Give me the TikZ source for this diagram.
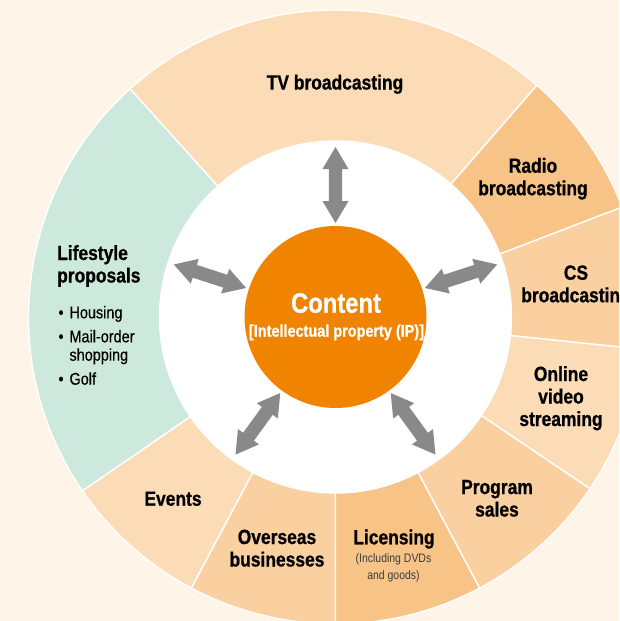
\documentclass[tikz,border=0pt]{standalone}
\usepackage{fontspec}
\setmainfont{Liberation Sans}[FakeStretch=0.85, BoldFeatures={FakeBold=0.8}]
\newfontfamily\listfont{Liberation Sans}[FakeStretch=0.85, FakeBold=0.4]
\definecolor{bgcream}{HTML}{FEF4E8}
\definecolor{seglight}{HTML}{FBDCB7}
\definecolor{segmid}{HTML}{FAD0A1}
\definecolor{segdark}{HTML}{F8C387}
\definecolor{segmint}{HTML}{CDE8DC}
\definecolor{contentorange}{HTML}{F08300}
\definecolor{arrowgray}{HTML}{898989}
\definecolor{notegray}{HTML}{3C3C3C}
\newcommand{\ringseg}[3]{\filldraw[segline, fill=#3] (#1:176) -- (#1:307) arc[start angle=#1, end angle=#2, radius=307pt] -- (#2:176) arc[start angle=#2, end angle=#1, radius=176pt] -- cycle;}
\newcommand{\dblarrow}[1]{\fill[arrowgray, rotate=#1] (94,0) -- (116,13) -- (116,6.7) -- (148,6.7) -- (148,13) -- (170,0) -- (148,-13) -- (148,-6.7) -- (116,-6.7) -- (116,-13) -- cycle;}
\newcommand{\clines}[1]{\begin{tabular}[t]{@{}c@{}}#1\end{tabular}}
\newcommand{\llines}[1]{\begin{tabular}[t]{@{}l@{}}#1\end{tabular}}
\begin{document}
\begin{tikzpicture}[x=1pt, y=1pt,
  segline/.style={draw=white, line width=1.4pt},
  seglabel/.style={inner sep=0pt, anchor=base, font=\fontsize{20.5}{22.5}\selectfont\bfseries},
  notelabel/.style={inner sep=0pt, anchor=base, text=notegray, font=\fontsize{12.3}{16.5}\selectfont},
  listlabel/.style={inner sep=0pt, anchor=base west, font=\fontsize{17}{18.4}\selectfont\listfont}]
\useasboundingbox (0,0) rectangle (619,-621);
\clip (0,0) rectangle (619,-621);
\fill[bgcream] (0,0) rectangle (619,-621);
\begin{scope}[shift={(335.5,-317)}]
  \ringseg{49}{132}{seglight}
  \ringseg{132}{214.5}{segmint}
  \ringseg{214.5}{242}{seglight}
  \ringseg{242}{270}{segmid}
  \ringseg{270}{298}{segdark}
  \ringseg{298}{326}{segmid}
  \ringseg{326}{354}{seglight}
  \ringseg{354}{381}{segmid}
  \ringseg{21}{49}{segdark}
  \fill[white] (0,0) circle[radius=175.5pt];
  \node[circle, fill=contentorange, minimum size=182pt, inner sep=0pt] (contentcircle) at (0,0) {};
  \dblarrow{90}
  \dblarrow{162}
  \dblarrow{234}
  \dblarrow{306}
  \dblarrow{18}
\end{scope}
\node[seglabel, text=white, font=\fontsize{28}{30}\selectfont\bfseries] (content) at (336,-312.7) {Content};
\node[seglabel, text=white, font=\fontsize{17}{19}\selectfont\bfseries] (ip) at (336.5,-336.7) {[Intellectual property (IP)]};
\node[seglabel] (tv) at (335,-89.5) {TV broadcasting};
\node[seglabel] (radio) at (533,-172.7) {\clines{Radio\\broadcasting}};
\node[seglabel] (cs) at (576,-279.7) {\clines{CS\\broadcasting}};
\node[seglabel] (online) at (561,-381) {\clines{Online\\video\\streaming}};
\node[seglabel] (program) at (497,-494) {\clines{Program\\sales}};
\node[seglabel] (licensing) at (394,-544.3) {Licensing};
\node[notelabel] (licnote) at (393.5,-562.5) {\clines{(Including DVDs\\and goods)}};
\node[seglabel] (overseas) at (277,-544) {\clines{Overseas\\businesses}};
\node[seglabel] (events) at (173,-505.7) {Events};
\node[seglabel, anchor=base west] (lifestyle) at (57,-260) {\llines{Lifestyle\\proposals}};
\node[listlabel] (lifelist) at (58.3,-318.3) {\llines{\makebox[11pt][l]{•}Housing\\[5.6pt]
  \makebox[11pt][l]{•}Mail-order\\
  \hspace*{11pt}shopping\\[5.6pt]
  \makebox[11pt][l]{•}Golf}};
\end{tikzpicture}
\end{document}
